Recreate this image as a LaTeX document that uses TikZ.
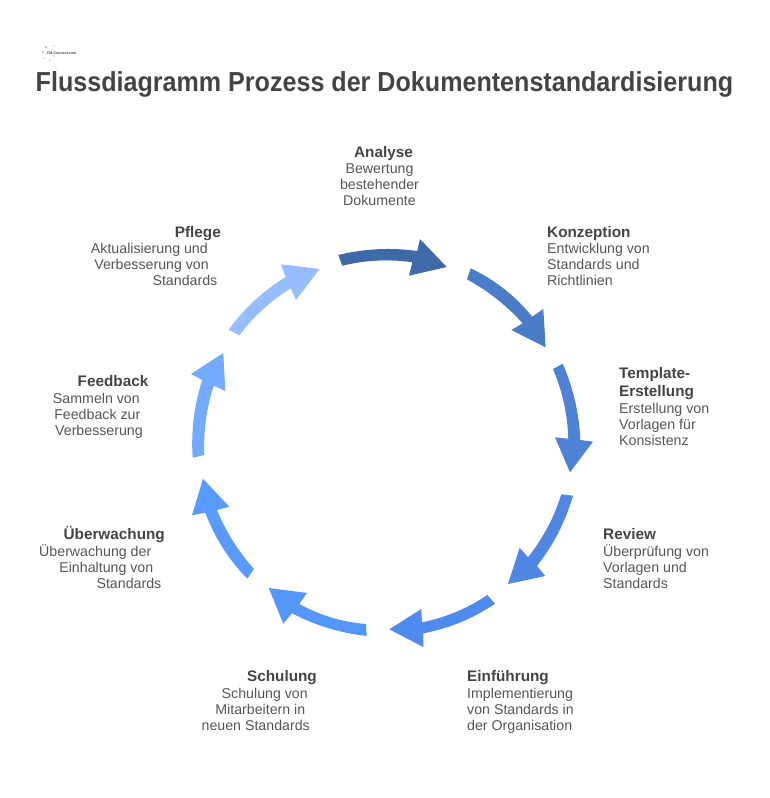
\documentclass[tikz,border=0pt]{standalone}
\usepackage{fontspec}
\setmainfont{Liberation Sans}
\usetikzlibrary{calc}
\definecolor{headc}{HTML}{444444}
\definecolor{bodyc}{HTML}{555555}
\newcommand\gapline[2]{\mbox{#1\hspace{#2}}}
\tikzset{
 titlelabel/.style={font=\fontsize{27.5}{30}\selectfont\bfseries,text=headc,inner sep=0pt,anchor=base west},
 headlabel/.style={font=\fontsize{15.3}{18}\selectfont\bfseries,text=headc,inner sep=0pt},
 bodylabel/.style={font=\fontsize{14.2}{16}\selectfont,text=bodyc,inner sep=0pt},
 block/.style={fill=#1,draw=none}
}
% block arrow on the ring: the two long edges are arcs about the ring centre (cc)
\newcommand\blockarrow[8]{%
 \definecolor{bacol}{HTML}{#1}%
 \coordinate (ta) at #2; \coordinate (ja) at #3;
 \coordinate (ba) at #4; \coordinate (tp) at #5; \coordinate (bb) at #6;
 \coordinate (jb) at #7; \coordinate (tb) at #8;
 \path let \p1=($(ta)-(cc)$), \p2=($(jb)-(cc)$), \n1={veclen(\x1,\y1)}, \n2={veclen(\x2,\y2)} in
   coordinate (ma) at ($(cc)!\n1!($(ta)!.5!(ja)$)$)
   coordinate (mb) at ($(cc)!\n2!($(jb)!.5!(tb)$)$);
 \fill[block=bacol] (ta) .. controls ($1.3333*(ma)-0.3333*(ja)$) and ($1.3333*(ma)-0.3333*(ta)$) .. (ja)
   -- (ba) -- (tp) -- (bb) -- (jb)
   .. controls ($1.3333*(mb)-0.3333*(tb)$) and ($1.3333*(mb)-0.3333*(jb)$) .. (tb) -- cycle;}
\begin{document}
\begin{tikzpicture}[x=1pt,y=-1pt]
\useasboundingbox (0,0) rectangle (769,798);
\coordinate (cc) at (386,443);
% logo
\foreach \px/\py/\c in {46/47/violet!60,54/46/pink,43/52/blue!50,44/58/cyan!40,50/60/cyan!50,54/56/orange!50}
  \fill[\c] (\px,\py) circle (0.9);
\node[inner sep=0pt,font=\fontsize{3.6}{4}\selectfont\bfseries,text=headc,anchor=west] (logo) at (47,53) {FM-Connect.com};
\node[titlelabel] (title) at (35.5,91) {\resizebox{697.5pt}{\height}{Flussdiagramm Prozess der Dokumentenstandardisierung}};
% arrows
\blockarrow{4069AA}{(338.3,255)}{(417.3,251)}{(420,239)}{(446.7,267)}{(409,275.7)}{(412.3,262.3)}{(342.3,265.7)}
\blockarrow{4A7CC7}{(470.7,268.3)}{(532.3,316.7)}{(543.3,309)}{(545.7,347.3)}{(511.3,330)}{(522.7,323.3)}{(467,279.3)}
\blockarrow{4F81D6}{(562.7,363.7)}{(580.3,440)}{(593,441.7)}{(570,472.3)}{(555,437.3)}{(568.3,438.7)}{(553,369)}
\blockarrow{4F87E3}{(573,495.7)}{(537,566)}{(545.3,576)}{(508,584)}{(519.7,547.7)}{(528,557.3)}{(561.3,494.3)}
\blockarrow{4F8BEF}{(495,603.7)}{(423.3,633.3)}{(423.3,647)}{(389.3,629.3)}{(421.3,609)}{(422,622.3)}{(487.3,595)}
\blockarrow{5596FB}{(366.7,636)}{(292,613.3)}{(283.3,623.7)}{(268.7,588)}{(307,593)}{(299.3,604)}{(366,624)}
\blockarrow{5A9BFF}{(247.3,578.7)}{(205.3,512.7)}{(192,515.3)}{(203,478.7)}{(229.3,506.7)}{(217,510)}{(254,569)}
\blockarrow{74AAFF}{(192.7,457.7)}{(202.3,380)}{(191,374)}{(223.3,353)}{(225.3,391)}{(213.7,385.7)}{(204.3,455)}
\blockarrow{96BDFF}{(228.7,329.7)}{(285.7,277)}{(281,264.3)}{(319.7,269)}{(296,300)}{(290.7,288.3)}{(239.3,335.3)}
% labels (a multi-line node's base is that of its last line)
\node[headlabel,anchor=base] (h1) at (383.5,157) {Analyse};
\node[bodylabel,align=center,anchor=base] (b1) at (379.5,205.5) {Bewertung\\bestehender\\Dokumente};
\node[headlabel,anchor=base west] (h2) at (547,237) {Konzeption};
\node[bodylabel,align=left,anchor=base west] (b2) at (547,285.5) {Entwicklung von\\Standards und\\Richtlinien};
\node[headlabel,align=left,anchor=base west] (h3) at (619,396.5) {Template-\\Erstellung};
\node[bodylabel,align=left,anchor=base west] (b3) at (619,445) {Erstellung von\\Vorlagen für\\Konsistenz};
\node[headlabel,anchor=base west] (h4) at (603,539) {Review};
\node[bodylabel,align=left,anchor=base west] (b4) at (603,588.5) {Überprüfung von\\Vorlagen und\\Standards};
\node[headlabel,anchor=base west] (h5) at (467,681) {Einführung};
\node[bodylabel,align=left,anchor=base west] (b5) at (467,730.5) {Implementierung\\von Standards in\\der Organisation};
\node[headlabel,anchor=base east] (h6) at (317,681) {Schulung};
\node[bodylabel,align=right,anchor=base east] (b6) at (310,730.5) {\gapline{Schulung von}{2pt}\\\gapline{Mitarbeitern in}{4.5pt}\\neuen Standards};
\node[headlabel,anchor=base east] (h7) at (165,539) {Überwachung};
\node[bodylabel,align=right,anchor=base east] (b7) at (161.5,588.5) {\gapline{Überwachung der}{10pt}\\\gapline{Einhaltung von}{8pt}\\Standards};
\node[headlabel,anchor=base east] (h8) at (148.5,386.5) {Feedback};
\node[bodylabel,align=right,anchor=base east] (b8) at (143,435) {\gapline{Sammeln von}{3pt}\\\gapline{Feedback zur}{2.5pt}\\Verbesserung};
\node[headlabel,anchor=base east] (h9) at (221,237) {Pflege};
\node[bodylabel,align=right,anchor=base east] (b9) at (217.5,285.5) {\gapline{Aktualisierung und}{9.5pt}\\\gapline{Verbesserung von}{8.5pt}\\Standards};
\end{tikzpicture}
\end{document}
